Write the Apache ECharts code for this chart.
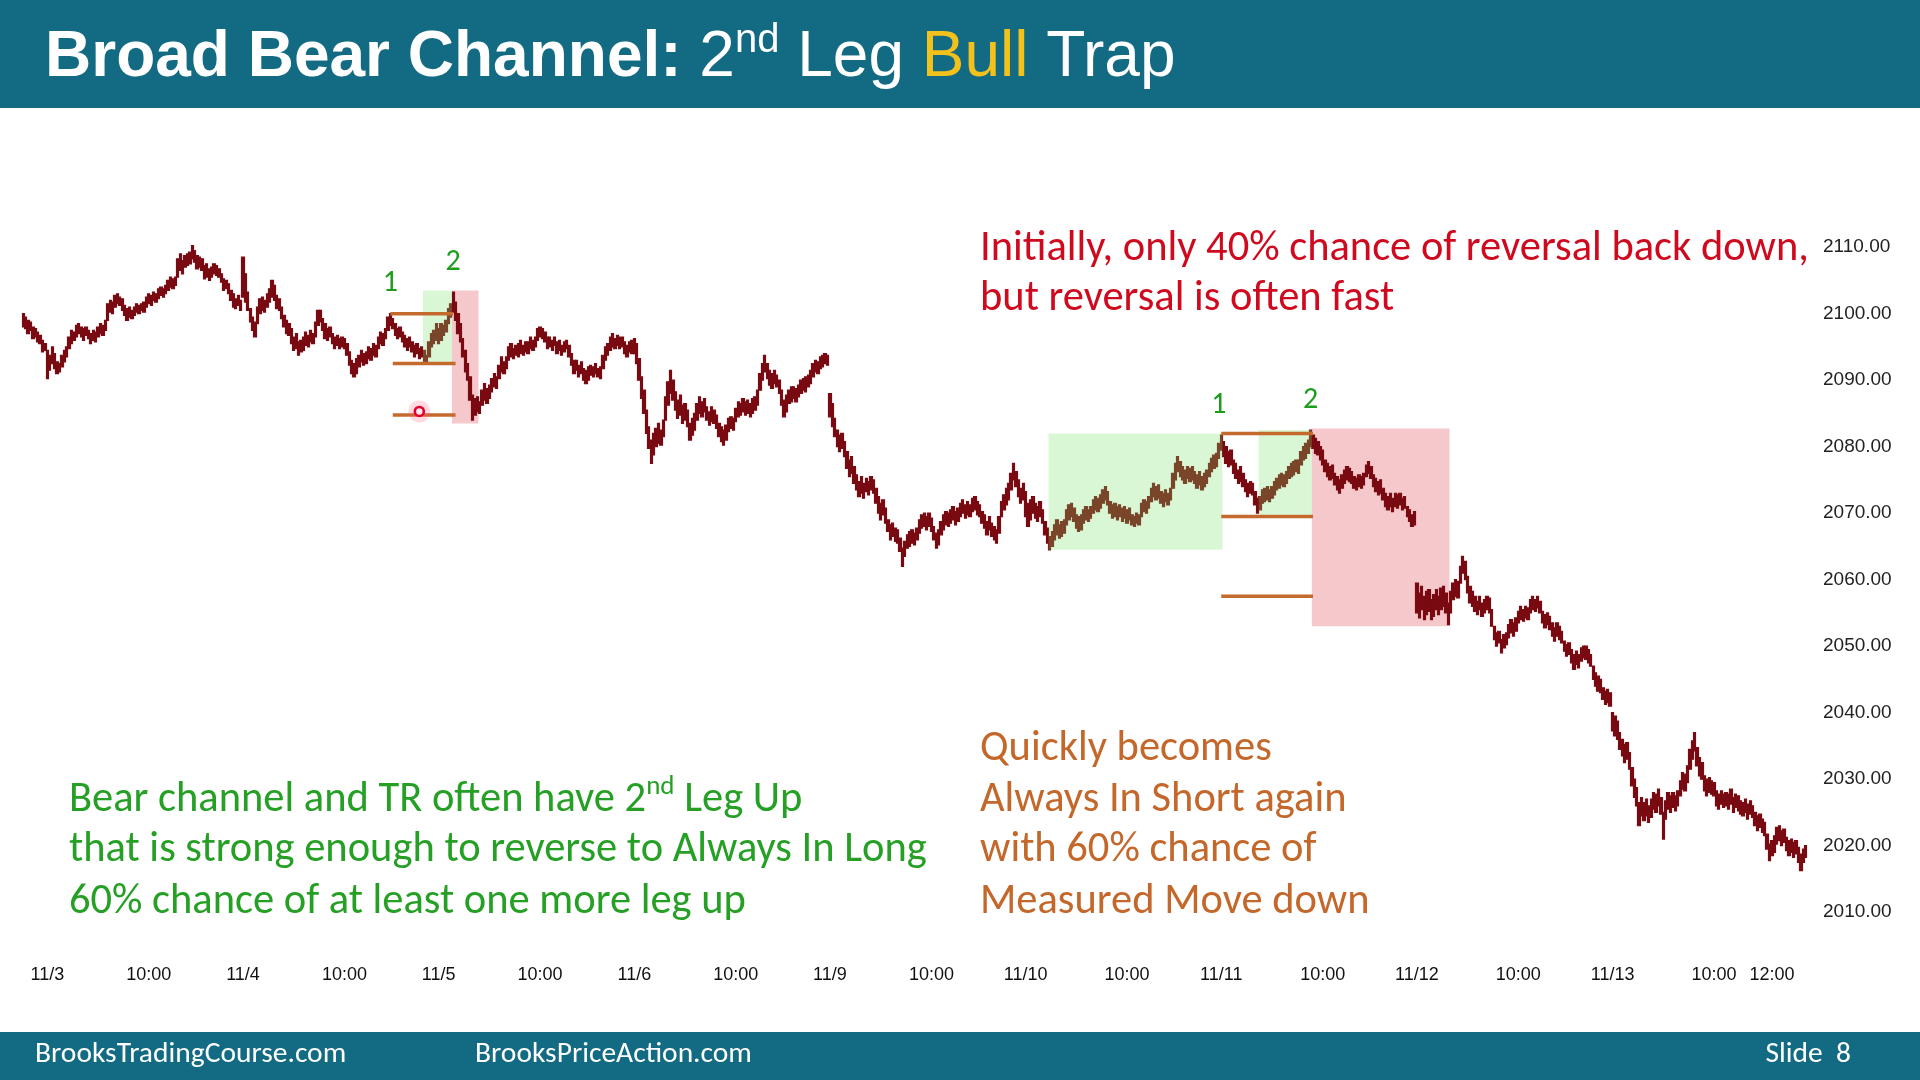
<!DOCTYPE html>
<html>
<head>
<meta charset="utf-8">
<script src="https://cdn.jsdelivr.net/npm/echarts@6/dist/echarts.min.js"></script>
<style>
html,body{margin:0;padding:0;background:#fff;}
#chart{width:1920px;height:1080px;}
</style>
</head>
<body>
<div id="chart"></div>
<script>
// ---- 5-minute bars, [low, high] per bar, one array per session ----
const nov02 = [[2098,2100],[2097.75,2099.5],[2097,2099],[2097.5,2098.75],[2096.25,2098],[2096.5,2097.75],[2095.75,2097.25],[2095.5,2096.75],[2094.25,2096],[2094.5,2095.5]];
const nov03 = [
[2090.25,2094.5],[2091.5,2093.75],[2092.5,2095],[2091.75,2094],[2091,2092.75],[2091.25,2092.5],[2092,2093.75],[2092.75,2094.5],[2093.5,2095],
[2094.75,2096.5],[2095.5,2097.5],[2096,2097.25],[2096.5,2098.25],[2097,2098.5],[2096.5,2098],[2096,2097.75],[2096.75,2098],[2096.25,2097.5],
[2095.5,2097],[2096,2097.5],[2095.75,2097.25],[2096.5,2098],[2097,2098.5],[2096.75,2098.25],[2097.5,2099],[2099,2101.5],[2100.25,2102],
[2100,2101.75],[2101,2102.75],[2101.5,2103],[2101.25,2102.5],[2100.5,2102.25],[2099.75,2101.25],[2099,2100.75],[2099.5,2101],[2099.25,2100.5],
[2099.75,2101],[2100.25,2101.5],[2100,2101.25],[2100.5,2101.5],[2100.25,2101.75],[2101,2102.5],[2101.5,2103],[2101.25,2102.75],[2102,2103.25],
[2101.75,2103],[2102.25,2103.75],[2102.75,2104],[2102.5,2103.75],[2103,2104.25],[2103.5,2105],[2104,2105.5],[2103.75,2105.25],[2104.25,2105.5],
[2105.5,2108.25],[2106.5,2109],[2106,2108],[2107,2108.75],[2107.25,2109],[2107.5,2109.25],[2108.25,2110.25],[2107.75,2109.5],[2106.75,2108.75],
[2107,2108.5],[2106.5,2108.25],[2105.25,2107.25],[2105.5,2107.5],[2105,2106.75],[2105.5,2107],[2106,2107.5],[2105.75,2107.25],[2105.5,2106.75],
[2104.75,2106],[2103.5,2105.25],[2103.75,2105],[2103,2104.5],[2102,2103.5],[2101,2103],[2100.75,2102.25],[2101.25,2102.75],[2100.5,2102]];
const nov04 = [
[2102.5,2108.5],[2101.75,2106],[2100.5,2103.25],[2098.75,2100.75],[2097.5,2099.5],[2096.5,2098.75],[2098.5,2101],[2100,2102.25],[2100.5,2102.5],
[2100.25,2102],[2101,2103],[2101.75,2103.75],[2102.5,2105],[2102,2104.25],[2100.75,2102.75],[2100.5,2102.25],[2099.25,2101],[2098,2099.75],
[2097,2099],[2096.75,2098.5],[2095.5,2097.75],[2094.5,2096.5],[2094.75,2097],[2093.75,2095.75],[2094.25,2096],[2094.5,2096.5],[2095.25,2097.25],
[2095,2096.75],[2095.75,2097.5],[2095.5,2097],[2096.5,2098.75],[2098.25,2100.5],[2098.75,2100.5],[2097.5,2099.25],[2096.25,2098.5],[2096,2097.75],
[2096.5,2098],[2095.5,2097],[2094.75,2096.5],[2095.25,2096.75],[2094.75,2096.25],[2095,2096.5],[2094.75,2096.25],[2093.75,2095.5],[2092.25,2094.25],
[2091,2093],[2090.5,2092.5],[2091,2093.25],[2092,2093.75],[2092.75,2094.5],[2092.25,2094],[2092.5,2094.25],[2093.25,2095],[2093,2094.75],
[2093.75,2095.5],[2093.5,2095.25],[2094.75,2096.5],[2095.5,2097.25],[2095.25,2097],[2096.25,2097.75],[2097.5,2099.5],[2098.25,2100],[2097.75,2099.25],
[2096.75,2098.5],[2096.25,2097.75],[2096.5,2098],[2095.75,2097.25],[2095,2096.75],[2094.5,2096.25],[2095,2096.5],[2094.25,2095.75],[2093.5,2095.25],
[2094,2095.5],[2093.25,2094.75],[2093.5,2095],[2092.75,2094.5],[2092.75,2093.75],[2093.5,2095.75],[2095,2097],[2095.5,2097.5],[2096,2098.5]];
const nov05 = [
[2095.5,2097.75],[2096,2098.5],[2096.75,2098.25],[2097.25,2099],[2098.5,2100.75],[2099.5,2101.5],[2100.25,2103.25],[2099,2101.75],[2097,2100],
[2095.75,2098.5],[2093.5,2096.25],[2091.25,2094.5],[2090,2092.5],[2087,2090.5],[2084,2087.75],[2084.75,2087.25],[2085.25,2087.5],[2085,2086.75],
[2086.25,2088.5],[2087,2089.5],[2086.5,2088.75],[2087.25,2089.25],[2088.25,2090.25],[2089,2091],[2088.75,2090.5],[2090.25,2092.25],[2091.25,2093.5],
[2091,2092.75],[2091.75,2093.5],[2093,2095],[2093.5,2095.5],[2093.25,2094.75],[2093.75,2095.25],[2093.5,2095.5],[2094,2096],[2093.75,2095.25],
[2094.25,2095.75],[2094,2095.75],[2094.75,2096.5],[2094.5,2096],[2095,2096.5],[2096,2097.75],[2096.5,2098],[2096.25,2097.75],[2095.75,2097.25],
[2094.75,2096.5],[2095,2096.5],[2094.5,2096],[2095.25,2096.5],[2094,2095.75],[2094.5,2096],[2093.75,2095.25],[2094.25,2095.75],[2094.75,2096],
[2093.5,2095.25],[2092.25,2094],[2091,2093],[2091.5,2093],[2090.5,2092.25],[2091,2092.75],[2090,2091.75],[2089.5,2091.5],[2090,2092],
[2090.75,2092.25],[2090.5,2092],[2091,2092.5],[2090.5,2091.75],[2090.25,2092],[2091.75,2093.75],[2093,2095],[2093.75,2095.5],[2094.5,2096.5],
[2095,2097],[2094.75,2096.25],[2095.25,2096.75],[2094.75,2096.5],[2095,2096.5],[2094,2095.75],[2093.5,2095.25],[2094.25,2095.75],[2094,2096]];
const nov06 = [
[2094,2096.25],[2092.5,2095.5],[2090,2093.25],[2087.25,2090.5],[2085,2088.5],[2082,2085.5],[2079.75,2083],[2077.5,2081],[2078.75,2082],
[2080,2082.75],[2080.5,2083.5],[2080.25,2082.5],[2081.5,2084],[2084,2087.5],[2086.25,2089.75],[2088,2091.5],[2087,2090],[2085.5,2088.25],
[2084.25,2087],[2084.75,2087.75],[2083.5,2086.25],[2084,2086.5],[2083,2085.5],[2081,2083.5],[2081.75,2084.25],[2082.5,2085],[2084,2086.5],
[2085,2087.5],[2084.5,2086.75],[2085.25,2087.25],[2084,2086],[2083.25,2085.25],[2083.75,2086],[2083.5,2085.5],[2082.75,2084.75],[2081.5,2083.5],
[2080.75,2083],[2080.25,2082.5],[2081,2083.25],[2082.25,2084.25],[2082.75,2084.5],[2082.5,2084.25],[2083.75,2085.75],[2084.5,2086.75],[2084.75,2086.5],
[2085.25,2087.25],[2084.75,2086.75],[2085,2087],[2084.5,2086.5],[2085,2087.25],[2085.5,2087.5],[2086.25,2088.5],[2088.5,2091],[2090,2092.5],
[2091.25,2093.75],[2090.25,2092.5],[2089.25,2091.5],[2088.75,2091],[2089.5,2091.5],[2089,2090.75],[2088,2090],[2086.25,2088.5],[2084.5,2087],
[2085.25,2087.75],[2086.5,2088.5],[2086.75,2089],[2087.25,2089],[2086.75,2088.75],[2087.5,2089.25],[2088,2090],[2088.5,2090.25],[2088.25,2090.5],
[2089,2090.75],[2089.5,2091.5],[2090.5,2092.5],[2091.25,2093],[2091,2092.75],[2091.75,2093.5],[2092,2093.75],[2092.5,2094],[2092.25,2093.75]];
const nov09 = [
[2084.5,2088],[2083,2086.5],[2081.5,2084.25],[2080,2082.5],[2079.25,2081.75],[2079.75,2082],[2078.5,2080.75],[2076.75,2079.25],[2075.5,2078],
[2076,2078.5],[2074.5,2077],[2073.5,2075.75],[2072.5,2074.75],[2073,2075.5],[2072.25,2074.5],[2073.25,2075.25],[2072.75,2074.75],[2073.5,2075.5],
[2073,2075],[2071.5,2073.75],[2070,2072.5],[2069,2071.5],[2069.75,2072],[2068.5,2070.75],[2067.25,2069],[2066,2068.25],[2066.5,2068.5],
[2065.75,2067.75],[2065.5,2067.5],[2064.25,2066.25],[2062,2064.75],[2063.5,2065.75],[2064.75,2066.75],[2065,2067.25],[2065.5,2067.5],[2065.25,2067],
[2066,2067.75],[2067,2069],[2067.75,2069.75],[2068,2070],[2067.5,2069.5],[2068,2070],[2067.25,2069.25],[2066,2068],[2064.75,2067],
[2065.25,2067.5],[2066.75,2068.75],[2067.5,2069.75],[2068.25,2070.25],[2068,2070],[2068.5,2070.5],[2069,2071],[2068.25,2070.25],[2068.75,2070.75],
[2069.5,2071.5],[2070,2072],[2069.25,2071.25],[2069.75,2071.75],[2069.5,2071.25],[2070.25,2072.25],[2070.5,2072.5],[2069.75,2071.75],[2069.5,2071.25],
[2068.5,2070.25],[2067.75,2069.75],[2066.75,2068.75],[2067.5,2069.5],[2066.5,2068.5],[2066,2068],[2065.5,2067.5],[2067,2069.5],[2069.5,2071.75],
[2070.5,2072.75],[2071.25,2073.75],[2072,2074.5],[2073.5,2076],[2075,2077.5],[2074,2076.25],[2072.5,2075],[2071.5,2073.75],[2072,2074.5]];
const nov10 = [
[2069.5,2073.25],[2068,2071.5],[2069,2072],[2070,2072.5],[2069.25,2071.5],[2068.75,2071],[2069.5,2071.75],[2068.5,2070.5],[2066.75,2068.75],
[2065.5,2067.75],[2064.5,2066.5],[2065,2067.25],[2066,2068.25],[2066.75,2069],[2066.25,2068.25],[2066.5,2068.75],[2067,2069],[2068.25,2070.5],
[2069,2071.25],[2069.5,2071.5],[2068.75,2070.75],[2067.75,2069.75],[2067.25,2069.5],[2067.5,2069.75],[2068.5,2070.5],[2069,2071],[2068.75,2070.5],
[2069.25,2071],[2070,2072],[2070.5,2072.5],[2070.25,2072.25],[2070.75,2072.75],[2071.5,2073.5],[2072,2074],[2071.25,2073.25],[2070,2071.75],
[2069.25,2071.25],[2069.5,2071.5],[2069,2071],[2069.5,2071.25],[2068.75,2070.75],[2069.25,2071],[2068.5,2070.5],[2069,2070.75],[2068.25,2069.75],
[2068,2069.5],[2068.5,2070],[2068.25,2069.75],[2069.5,2071.5],[2070.25,2072],[2070,2071.75],[2070.75,2072.5],[2071.75,2073.75],[2072.5,2074.5],
[2072,2074],[2072.25,2074.25],[2071.5,2073.25],[2071,2073],[2071.75,2073.5],[2071.25,2073],[2072,2073.75],[2073.75,2076],[2075,2077.5],
[2076.25,2078.5],[2075.5,2077.75],[2075,2077],[2074.5,2076.5],[2075.25,2077],[2074.75,2076.75],[2075,2077],[2074.5,2076.25],[2073.75,2075.75],
[2074.25,2076.25],[2073.5,2075.5],[2074,2076],[2074.5,2076.5],[2075.5,2077.5],[2076.25,2078.25],[2076.75,2078.75],[2077,2079],[2078.25,2080.5]];
const nov11 = [
[2079.5,2081.75],[2078.5,2080.75],[2077.5,2080],[2077,2079.25],[2077.25,2079.5],[2076,2078],[2075.25,2077.5],[2074.5,2076.5],[2074.75,2077],
[2074,2076],[2073.25,2075],[2072.5,2074.5],[2073,2074.75],[2072.75,2074.5],[2071.25,2073.25],[2070,2072.25],[2070.5,2072.5],[2071.5,2073.5],
[2071.75,2073.75],[2072,2074],[2071.75,2073.5],[2072.25,2074],[2072.75,2074.75],[2073.5,2075.25],[2073.75,2075.75],[2074.25,2076],[2074,2075.75],
[2074.5,2076.25],[2075.25,2077],[2075.5,2077.5],[2075.75,2077.75],[2076.25,2078],[2076,2078],[2077.25,2079.25],[2078,2080],[2078.25,2080.5],
[2079,2081],[2080,2082.5],[2079.75,2081.75],[2079,2081.25],[2078.75,2080.75],[2078,2080],[2077.25,2079.5],[2076.25,2078],[2075.5,2077.5],
[2075,2077],[2075.25,2077.25],[2074.25,2076],[2073.5,2075.5],[2073,2075],[2073.75,2075.75],[2074.5,2076.5],[2075,2077],[2074.75,2076.75],
[2074.5,2076.25],[2073.75,2075.5],[2073.5,2075.25],[2074,2075.75],[2073.75,2075.5],[2074.25,2076],[2075.5,2077.25],[2076,2077.75],[2075.25,2077],
[2074,2075.75],[2073.25,2075.25],[2072.75,2074.75],[2073,2075],[2072,2073.75],[2071,2073],[2070.5,2072.5],[2071,2073],[2070.25,2072.25],
[2071,2073],[2070.75,2072.75],[2071.25,2073],[2070.5,2072.25],[2070.75,2072.5],[2069.5,2071],[2068.75,2070.5],[2068,2069.75],[2068.25,2070.25]];
const nov12 = [
[2055,2059.5],[2054.25,2058],[2055.5,2059],[2054,2057.5],[2054.75,2058.25],[2055.25,2058.5],[2054,2057],[2054.5,2057.75],[2055.5,2058.5],
[2054.75,2057.5],[2055.5,2058.75],[2056,2059],[2055,2058],[2053.25,2056.5],[2055,2058.25],[2057,2059.5],[2057.5,2060],[2057.25,2059.75],
[2059.5,2062],[2061,2063.5],[2060,2062.75],[2058,2060.5],[2056.5,2059],[2056,2058.25],[2055.25,2057.5],[2054.75,2056.75],[2055.5,2057.5],
[2054.5,2056.5],[2055,2057],[2055.5,2057.5],[2055,2057.25],[2053,2055.5],[2051,2053],[2050,2052],[2050.5,2052.25],[2049,2051],
[2049.75,2051.75],[2050.25,2052],[2051.25,2053.25],[2052,2054],[2051.5,2053.5],[2052.25,2054.25],[2053.5,2055.25],[2054,2056],[2053.75,2055.5],
[2054.25,2056],[2054,2055.75],[2055,2057],[2055.5,2057.5],[2055.25,2057],[2055.75,2057.5],[2055,2056.75],[2053.5,2055.25],[2052.75,2054.75],
[2053.25,2055],[2052.5,2054.5],[2051.5,2053.5],[2050.75,2052.75],[2051.5,2053.5],[2051,2053],[2050.5,2052.25],[2049.25,2050.75],[2048.5,2050.25],
[2048.75,2050.5],[2047.5,2049.5],[2046.5,2048.75],[2047.25,2049.25],[2046.75,2048.75],[2047.75,2049.75],[2048.25,2050],[2048,2050],[2047.5,2049.5],
[2047,2048.75],[2045,2047],[2044,2046],[2043.25,2045.5],[2043,2045],[2042,2043.75],[2041.25,2043.25],[2041.5,2043.5],[2041,2043]];
const nov13 = [
[2037.25,2040],[2036.5,2039.5],[2036,2038.75],[2034.5,2037],[2033.5,2036],[2032.5,2035.25],[2033,2035.5],[2031.5,2034],[2029,2031.75],
[2027.25,2030],[2026,2028.75],[2023,2026.5],[2024.5,2027.25],[2023.75,2026.5],[2024.5,2027],[2023.5,2026],[2024.25,2027],[2025.5,2028],
[2025,2027.75],[2026,2028.5],[2024.75,2027.25],[2021,2025],[2024,2026.75],[2025.5,2028],[2025,2027.5],[2025.75,2028],[2025.25,2027.5],
[2026,2028.25],[2027.5,2029.75],[2028.5,2031],[2028.25,2030.75],[2029.5,2032],[2031.5,2034.5],[2033,2035.75],[2034.25,2037],[2032,2034.75],
[2030.5,2033.25],[2030,2032.5],[2028.25,2030.5],[2027.5,2030],[2028,2030.25],[2027.75,2029.75],[2027.5,2029.5],[2026,2028.25],[2025.5,2027.75],
[2026.25,2028.25],[2025.75,2027.75],[2026,2028],[2025.5,2027.75],[2026.25,2028.5],[2025,2027.25],[2025.75,2027.75],[2025.25,2027.5],[2024.75,2026.75],
[2024.5,2026.5],[2025,2027],[2024,2026.25],[2024.75,2026.75],[2024.25,2026],[2023,2025],[2022.25,2024.5],[2022.75,2024.75],[2022,2024],
[2021.5,2023.5],[2019.5,2021.75],[2017.75,2020.25],[2018.5,2020.75],[2019,2021.5],[2020.25,2022.75],[2020.75,2023],[2020,2022.25],[2020.5,2022.5],
[2019.25,2021.25],[2018.5,2020.75],[2019,2021],[2018.25,2020.5],[2018.75,2020.75],[2017.5,2019.75],[2016.25,2018.75],[2017.5,2019.5],[2018.25,2020]];

// ---- x-axis tick labels (bar slot index -> text) ----
const tickBars   = [10, 52, 91, 133, 172, 214, 253, 295, 334, 376, 415, 457, 496, 538, 577, 619, 658, 700, 724];
const tickLabels = ['11/3','10:00','11/4','10:00','11/5','10:00','11/6','10:00','11/9','10:00','11/10','10:00','11/11','10:00','11/12','10:00','11/13','10:00','12:00'];

// ---- annotations in data space: [fromBar, toBar, lowPrice, highPrice] ----
const pinkBoxes  = [[178, 188, 2083.5, 2103.5], [534, 590, 2053, 2082.75]];
const greenBoxes = [[166, 177, 2092.5, 2103.5], [425, 496, 2064.5, 2082], [512, 533, 2069.75, 2082.5]];
// horizontal levels: [fromBar, toBar, price]
const orangeLevels = [[152, 178, 2100], [153, 179, 2092.5], [153, 179, 2084.75],
                      [496, 534, 2082], [496, 534, 2069.5], [496, 534, 2057.5]];
// leg labels: [bar, price]
const legPos   = [[152, 2104.5], [178, 2107.75], [495, 2086.25], [533, 2086.9]];
const legNames = ['1', '2', '1', '2'];
const pointerDot = [[164, 2085.3]];

const sessions = [nov02, nov03, nov04, nov05, nov06, nov09, nov10, nov11, nov12, nov13];
const ranges = [].concat(...sessions);
const slots = ranges.map((r, i) => String(i));
const candleData = ranges.map(r => [r[0], r[1], r[0], r[1]]);

const BAR = '#7a0a12';
const TEAL = '#136b83';
const SANS = "'Liberation Sans', Arial, sans-serif";
const CAL = "Carlito, Lato, sans-serif";
const NOTE = 42.5;

function boxRender(fill) {
  return function (params, api) {
    const band = api.size([1, 0])[0];
    const a = api.coord([api.value(0), api.value(3)]);
    const b = api.coord([api.value(1), api.value(2)]);
    return { type: 'rect', shape: { x: a[0] - band / 2, y: a[1], width: b[0] - a[0] + band, height: b[1] - a[1] }, style: { fill: fill } };
  };
}
function note(x, y, text, fill) {
  return { type: 'text', x: x, y: y, z: 10, style: { text: text, font: NOTE + 'px ' + CAL, fill: fill, verticalAlign: 'middle' } };
}

const chart = echarts.init(document.getElementById('chart'), null, { renderer: 'canvas' });
chart.setOption({
  animation: false,
  backgroundColor: '#ffffff',
  grid: { left: 22, right: 113, top: 247.2, bottom: 167.8, containLabel: false, outerBoundsMode: 'none' },
  xAxis: {
    type: 'category', data: slots, boundaryGap: true,
    axisLine: { show: false }, axisTick: { show: false }, splitLine: { show: false },
    axisLabel: {
      interval: function (i) { return tickBars.indexOf(i) >= 0; },
      formatter: function (v, i) { const k = tickBars.indexOf(i); return k >= 0 ? tickLabels[k] : ''; },
      margin: 54, fontSize: 18, fontFamily: SANS, color: '#111'
    }
  },
  yAxis: {
    type: 'value', position: 'right', min: 2010, max: 2110, interval: 10, scale: true,
    axisLine: { show: false }, axisTick: { show: false }, splitLine: { show: false },
    axisLabel: { formatter: function (v) { return v.toFixed(2); }, margin: 16, fontSize: 19, fontFamily: SANS, color: '#222' }
  },
  series: [
    { type: 'custom', name: 'pink', z: 1, data: pinkBoxes, encode: { x: [0, 1], y: [2, 3] }, renderItem: boxRender('#f5c8cc'), silent: true },
    { type: 'candlestick', name: 'bars', z: 3, data: candleData, barWidth: 2.8, large: false, clip: false,
      itemStyle: { color: BAR, color0: BAR, borderColor: BAR, borderColor0: BAR, borderWidth: 1.2 } },
    { type: 'custom', name: 'green', z: 4, data: greenBoxes, encode: { x: [0, 1], y: [2, 3] }, renderItem: boxRender('rgba(120,225,105,0.28)'), silent: true },
    { type: 'custom', name: 'levels', z: 5, data: orangeLevels, encode: { x: [0, 1], y: 2 }, silent: true,
      renderItem: function (params, api) {
        const a = api.coord([api.value(0), api.value(2)]);
        const b = api.coord([api.value(1), api.value(2)]);
        return { type: 'line', shape: { x1: a[0], y1: a[1], x2: b[0], y2: b[1] }, style: { stroke: '#c46a2c', lineWidth: 3.5 } };
      } },
    { type: 'custom', name: 'legs', z: 6, data: legPos, encode: { x: 0, y: 1 }, silent: true,
      renderItem: function (params, api) {
        const p = api.coord([api.value(0), api.value(1)]);
        return { type: 'text', x: p[0], y: p[1], style: { text: legNames[params.dataIndex], fill: '#1c9e1c', font: '30px ' + CAL, align: 'center', verticalAlign: 'middle' } };
      } },
    { type: 'custom', name: 'pointer', z: 7, data: pointerDot, encode: { x: 0, y: 1 }, silent: true,
      renderItem: function (params, api) {
        const p = api.coord([api.value(0), api.value(1)]);
        return { type: 'group', children: [
          { type: 'circle', shape: { cx: p[0], cy: p[1], r: 11 }, style: { fill: 'rgba(255,90,120,0.22)' } },
          { type: 'circle', shape: { cx: p[0], cy: p[1], r: 4.5 }, style: { fill: '#ffe8ee', stroke: '#e4002b', lineWidth: 2.6 } }
        ] };
      } }
  ],
  graphic: [
    { type: 'rect', shape: { x: 0, y: 0, width: 1920, height: 108 }, style: { fill: TEAL }, z: 0 },
    { type: 'rect', shape: { x: 0, y: 1032, width: 1920, height: 48 }, style: { fill: TEAL }, z: 0 },
    { type: 'text', x: 45, y: 58, z: 10, style: {
        text: '{b|Broad Bear Channel:}{r| 2}{s|nd}{r| Leg }{y|Bull}{r| Trap}',
        verticalAlign: 'middle', align: 'left',
        rich: {
          b: { fontFamily: SANS, fontWeight: 'bold', fontSize: 64, fill: '#ffffff' },
          r: { fontFamily: SANS, fontSize: 64, fill: '#ffffff' },
          s: { fontFamily: SANS, fontSize: 40, fill: '#ffffff', padding: [0, 0, 34, 0] },
          y: { fontFamily: SANS, fontSize: 64, fill: '#f3c11b' }
        } } },
    note(980, 249, 'Initially, only 40% chance of reversal back down,', '#cf0a1f'),
    note(980, 299, 'but reversal is often fast', '#cf0a1f'),
    { type: 'text', x: 69, y: 800, z: 10, style: {
        text: '{m|Bear channel and TR often have 2}{s|nd}{m| Leg Up}', verticalAlign: 'middle',
        rich: { m: { fontFamily: CAL, fontSize: NOTE, fill: '#25a025' }, s: { fontFamily: CAL, fontSize: 27, fill: '#25a025', padding: [0, 0, 26, 0] } } } },
    note(69, 850, 'that is strong enough to reverse to Always In Long', '#25a025'),
    note(69, 902, '60% chance of at least one more leg up', '#25a025'),
    note(980, 749, 'Quickly becomes', '#c4672a'),
    note(980, 800, 'Always In Short again', '#c4672a'),
    note(980, 850, 'with 60% chance of', '#c4672a'),
    note(980, 902, 'Measured Move down', '#c4672a'),
    { type: 'text', x: 35, y: 1055, z: 10, style: { text: 'BrooksTradingCourse.com', font: '29.5px ' + CAL, fill: '#ffffff', verticalAlign: 'middle' } },
    { type: 'text', x: 475, y: 1055, z: 10, style: { text: 'BrooksPriceAction.com', font: '29.5px ' + CAL, fill: '#ffffff', verticalAlign: 'middle' } },
    { type: 'text', x: 1851, y: 1055, z: 10, style: { text: 'Slide  8', font: '29.5px ' + CAL, fill: '#ffffff', verticalAlign: 'middle', align: 'right' } }
  ]
});
</script>
</body>
</html>
